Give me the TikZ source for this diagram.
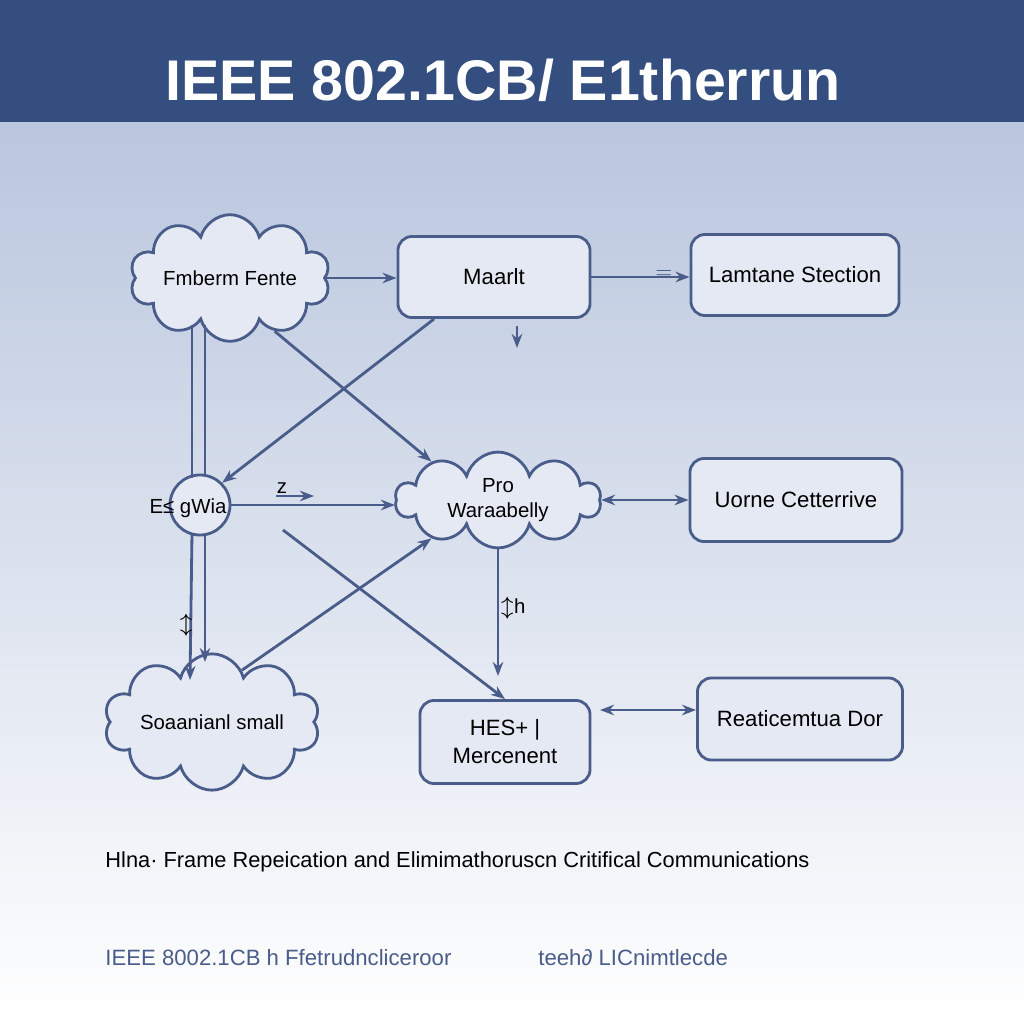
\documentclass[tikz,border=0pt]{standalone}
\usepackage{fontspec}
\setmainfont{Liberation Sans}
\usetikzlibrary{shapes.symbols,arrows.meta}
\definecolor{barBlue}{HTML}{344E80}
\definecolor{lineBlue}{HTML}{4A5D8A}
\definecolor{boxFill}{HTML}{E4E9F4}
\definecolor{topGrey}{HTML}{B9C6DE}
\begin{document}
\begin{tikzpicture}[x=0.01cm,y=-0.01cm,%%
  boxStyle/.style={draw=lineBlue,fill=boxFill,thick,rounded corners=4pt,font=\fontsize{6.3}{8}\selectfont,align=center},%%
  cloudStyle/.style={cloud,cloud puffs=10,aspect=2.2,draw=lineBlue,fill=boxFill,thick,font=\fontsize{5.8}{7}\selectfont,align=center,inner sep=0pt},%%
  arrowStyle/.style={-{Stealth[length=4pt]},lineBlue,thick},%%
  twoWay/.style={{Stealth[length=4pt]}-{Stealth[length=4pt]},lineBlue,thick}
]
%% Background.
\useasboundingbox (0,0) rectangle (1024,1024);
\shade[top color=topGrey,bottom color=white] (0,122) rectangle (1024,1024);
\fill[barBlue] (0,0) rectangle (1024,122);
\node (title) at (503,80) {\fontsize{16.3}{20}\selectfont\bfseries\color{white}IEEE 802.1CB/ E1therrun};
%% Nodes.
\node[cloudStyle,minimum width=1.95cm,minimum height=1.05cm] (cloudA) at (230,278) {Fmberm Fente};
\node[boxStyle,minimum width=1.92cm,minimum height=0.81cm] (maarlt) at (494,277) {Maarlt};
\node[boxStyle,minimum width=2.08cm,minimum height=0.81cm] (lamtane) at (795,275) {Lamtane Stection};
\node[circle,draw=lineBlue,fill=boxFill,thick,minimum size=0.6cm,inner sep=0pt] (gwia) at (200,505) {};
\node[font=\fontsize{5.8}{7}\selectfont] (gwiaText) at (188,508) {E≤ gWia};
\node[cloudStyle,minimum width=2.05cm,minimum height=0.95cm] (pro) at (498,500) {Pro\\Waraabelly};
\node[boxStyle,minimum width=2.12cm,minimum height=0.83cm] (uorne) at (796,500) {Uorne Cetterrive};
\node[cloudStyle,minimum width=1.9cm,minimum height=1.2cm] (cloudC) at (212,722) {Soaanianl small};
\node[boxStyle,minimum width=1.7cm,minimum height=0.83cm] (hes) at (505,742) {HES+ |\\Mercenent};
\node[boxStyle,minimum width=2.05cm,minimum height=0.82cm] (reatic) at (800,719) {Reaticemtua Dor};
%% Free ends.
\coordinate (tickTop) at (517,326);
\coordinate (tickEnd) at (517,348);
\coordinate (zFrom) at (276,496);
\coordinate (zTo) at (314,496);
%% Connectors.
\draw[arrowStyle] (cloudA.east) -- (maarlt.west |- cloudA.east);
\draw[arrowStyle] (maarlt.east) -- (lamtane.west |- maarlt.east);
\node[font=\tiny,lineBlue] (eqMark) at (664,274) {$=$};
\draw[arrowStyle] (tickTop) -- (tickEnd);
\draw[arrowStyle] (cloudA.-50) -- (pro.150);
\draw[arrowStyle] (maarlt.-145) -- (gwia.north east);
\draw[lineBlue,thick] (192,325) -- (192,478);
\draw[lineBlue,thick] (205,325) -- (205,476);
\draw[arrowStyle] (192,533) -- (190,680);
\draw[arrowStyle] (205,535) -- (205,662);
\draw[arrowStyle] (gwia.east) -- (pro.west |- gwia.east);
\draw[arrowStyle] (zFrom) -- (zTo);
\node[font=\fontsize{5.8}{7}\selectfont] (zText) at (282,488) {z};
\draw[arrowStyle] (283,530) -- (hes.north);
\draw[arrowStyle] (cloudC.60) -- (pro.-150);
\draw[arrowStyle] (pro.south) -- (498,676);
\node[font=\fontsize{5.8}{7}\selectfont] (hText) at (513,608) {$\updownarrow$h};
\node[font=\fontsize{5.8}{7}\selectfont] (tText) at (186,625) {$\updownarrow$};
\draw[twoWay] (pro.east) -- (uorne.west |- pro.east);
\draw[twoWay] (600,710) -- (reatic.west |- 600,710);
%% Caption and footer.
\node[anchor=west,font=\fontsize{6.2}{8}\selectfont] (caption) at (93,862) {Hlna· Frame Repeication and Elimimathoruscn Critifical Communications};
\node[anchor=west,font=\fontsize{6.3}{8}\selectfont,color=lineBlue] (footA) at (93,958) {IEEE 8002.1CB h Ffetrudncliceroor};
\node[anchor=west,font=\fontsize{6.3}{8}\selectfont,color=lineBlue] (footB) at (526,958) {teeh∂ LICnimtlecde};
\end{tikzpicture}
\end{document}
